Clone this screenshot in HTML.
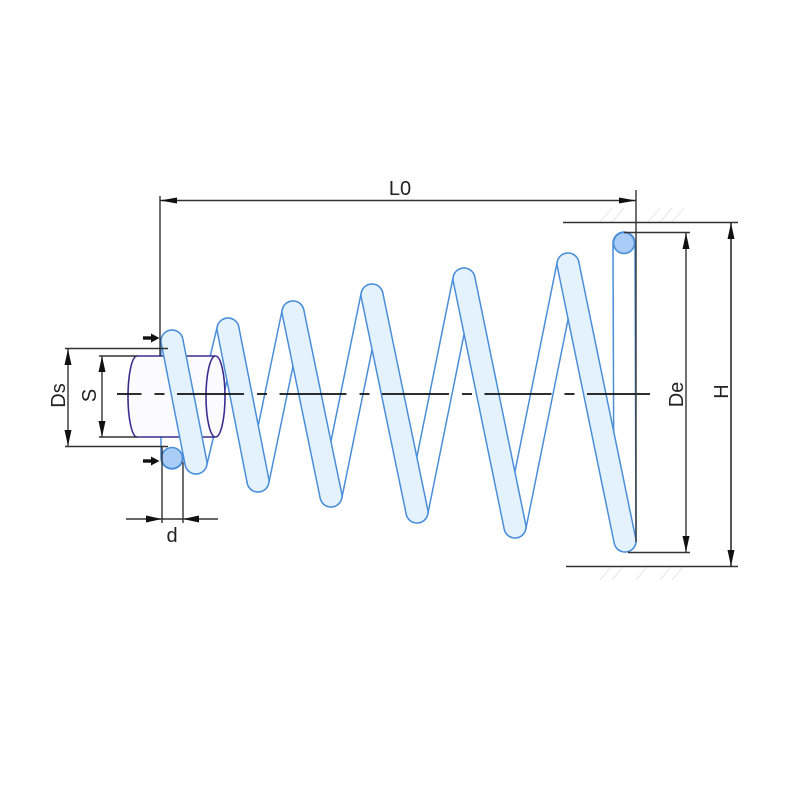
<!DOCTYPE html>
<html>
<head>
<meta charset="utf-8">
<style>
  html,body{margin:0;padding:0;background:#fff;}
  svg{display:block;}
  text{font-family:"Liberation Sans", "DejaVu Sans", sans-serif;fill:#222;}
</style>
</head>
<body>
<svg width="800" height="800" viewBox="0 0 800 800" xmlns="http://www.w3.org/2000/svg">
  <rect width="800" height="800" fill="#fff"/>

  <!-- faint ground hatching -->
  <g stroke="#e8e8e8" stroke-width="1">
    <line x1="600" y1="222" x2="612" y2="208"/>
    <line x1="612" y1="222" x2="624" y2="208"/>
    <line x1="648" y1="222" x2="660" y2="208"/>
    <line x1="660" y1="222" x2="672" y2="208"/>
    <line x1="672" y1="222" x2="684" y2="208"/>
    <line x1="600" y1="580" x2="612" y2="566"/>
    <line x1="612" y1="580" x2="624" y2="566"/>
    <line x1="636" y1="580" x2="648" y2="566"/>
    <line x1="660" y1="580" x2="672" y2="566"/>
    <line x1="672" y1="580" x2="684" y2="566"/>
  </g>

  <!-- back strips of the spring -->
  <g stroke-linecap="round">
    <g stroke="#4a8ed8" stroke-width="23.5">
      <line x1="172" y1="458" x2="172" y2="341"/>
      <line x1="196" y1="463" x2="228" y2="329"/>
      <line x1="258" y1="481" x2="293" y2="312"/>
      <line x1="331" y1="496" x2="372" y2="295"/>
      <line x1="417" y1="512" x2="464" y2="279"/>
      <line x1="515" y1="527" x2="568" y2="264"/>
      <line x1="625" y1="541" x2="624" y2="243"/>
    </g>
    <g stroke="#ffffff" stroke-width="20.5">
      <line x1="172" y1="458" x2="172" y2="341"/>
      <line x1="196" y1="463" x2="228" y2="329"/>
      <line x1="258" y1="481" x2="293" y2="312"/>
      <line x1="331" y1="496" x2="372" y2="295"/>
      <line x1="417" y1="512" x2="464" y2="279"/>
      <line x1="515" y1="527" x2="568" y2="264"/>
      <line x1="625" y1="541" x2="624" y2="243"/>
    </g>
  </g>

  <!-- cylinder (shaft) -->
  <path d="M137,356 L215,356 A9.5,40.5 0 0 1 215,437 L137,437 A9,40.5 0 0 1 137,356 Z" fill="#fbfbfe" stroke="none"/>
  <g stroke="#3b2d8f" stroke-width="1.6" fill="none">
    <line x1="137" y1="356" x2="215" y2="356"/>
    <line x1="137" y1="437" x2="215" y2="437"/>
    <path d="M137,437 A9,40.5 0 0 1 137,356"/>
    <ellipse cx="215.5" cy="396.5" rx="9.5" ry="40.5"/>
  </g>

  <!-- front bars -->
  <g stroke-linecap="round">
    <g stroke="#4a8ed8" stroke-width="23.5">
      <line x1="172" y1="341" x2="196" y2="463"/>
      <line x1="228" y1="329" x2="258" y2="481"/>
      <line x1="293" y1="312" x2="331" y2="496"/>
      <line x1="372" y1="295" x2="417" y2="512"/>
      <line x1="464" y1="279" x2="515" y2="527"/>
      <line x1="568" y1="264" x2="625" y2="541"/>
    </g>
    <g stroke="#e4f2fd" stroke-width="20.5">
      <line x1="172" y1="341" x2="196" y2="463"/>
      <line x1="228" y1="329" x2="258" y2="481"/>
      <line x1="293" y1="312" x2="331" y2="496"/>
      <line x1="372" y1="295" x2="417" y2="512"/>
      <line x1="464" y1="279" x2="515" y2="527"/>
      <line x1="568" y1="264" x2="625" y2="541"/>
    </g>
  </g>

  <!-- wire end circles -->
  <circle cx="172" cy="458" r="10.5" fill="#a9cdf6" stroke="#4a8ed8" stroke-width="1.6"/>
  <circle cx="624" cy="243" r="10.5" fill="#a9cdf6" stroke="#4a8ed8" stroke-width="1.6"/>

  <!-- centerline -->
  <line x1="117" y1="394" x2="650" y2="394" stroke="#111" stroke-width="1.7" stroke-dasharray="67 13 10 12.5" stroke-dashoffset="42.5"/>

  <!-- dimension & extension lines -->
  <g stroke="#333" stroke-width="1.4" fill="none">
    <!-- L0 -->
    <line x1="160" y1="196" x2="160" y2="356"/>
    <line x1="636" y1="190" x2="636" y2="542"/>
    <line x1="160" y1="200.5" x2="636" y2="200.5"/>
    <!-- Ds / S -->
    <line x1="65" y1="348.5" x2="168" y2="348.5"/>
    <line x1="65" y1="446.5" x2="168" y2="446.5"/>
    <line x1="99" y1="356" x2="137" y2="356"/>
    <line x1="99" y1="437" x2="137" y2="437"/>
    <line x1="68" y1="349" x2="68" y2="446"/>
    <line x1="102" y1="356" x2="102" y2="437"/>
    <!-- d -->
    <line x1="162" y1="446" x2="162" y2="523"/>
    <line x1="183" y1="462" x2="183" y2="523"/>
    <line x1="126" y1="519" x2="218" y2="519"/>
    <!-- De / H -->
    <line x1="563" y1="222.5" x2="738" y2="222.5"/>
    <line x1="566" y1="566.5" x2="738" y2="566.5"/>
    <line x1="624" y1="232.5" x2="690" y2="232.5"/>
    <line x1="628" y1="552.5" x2="690" y2="552.5"/>
    <line x1="686" y1="233" x2="686" y2="552"/>
    <line x1="731" y1="223" x2="731" y2="566" stroke="#111"/>
  </g>

  <!-- arrowheads -->
  <g fill="#111" stroke="none">
    <polygon points="160,200.5 177,197.5 177,203.5"/>
    <polygon points="636,200.5 619,197.5 619,203.5"/>
    <polygon points="68,349 64.5,365 71.5,365"/>
    <polygon points="68,446 64.5,430 71.5,430"/>
    <polygon points="102,356 98.5,372 105.5,372"/>
    <polygon points="102,437 98.5,421 105.5,421"/>
    <polygon points="162,519 146,515.5 146,522.5"/>
    <polygon points="183,519 199,515.5 199,522.5"/>
    <polygon points="686,233 682.5,249 689.5,249"/>
    <polygon points="686,552 682.5,536 689.5,536"/>
    <polygon points="731,223 727.5,239 734.5,239"/>
    <polygon points="731,566 727.5,550 734.5,550"/>
    <!-- bold force arrows -->
    <rect x="143" y="336.3" width="9" height="3.4"/>
    <polygon points="151,333.5 159.5,338 151,342.5"/>
    <rect x="143" y="459.3" width="9" height="3.4"/>
    <polygon points="151,456.5 159.5,461 151,465.5"/>
  </g>

  <!-- labels -->
  <text x="400" y="195" font-size="20" text-anchor="middle">L0</text>
  <text x="172" y="542" font-size="20" text-anchor="middle">d</text>
  <text transform="translate(65,395.5) rotate(-90)" font-size="20" text-anchor="middle">Ds</text>
  <text transform="translate(96,395.5) rotate(-90)" font-size="20" text-anchor="middle">S</text>
  <text transform="translate(683,394.5) rotate(-90)" font-size="20" text-anchor="middle">De</text>
  <text transform="translate(728,391.5) rotate(-90)" font-size="20" text-anchor="middle">H</text>
</svg>
</body>
</html>
